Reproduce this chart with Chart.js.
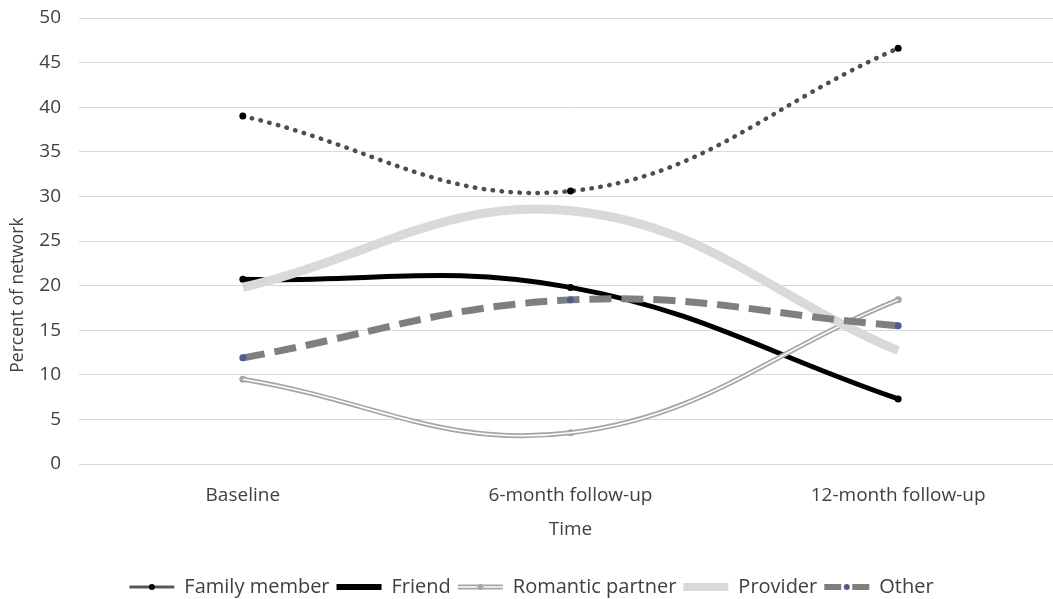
<!DOCTYPE html>
<html>
<head>
<meta charset="utf-8">
<script src="https://cdn.jsdelivr.net/npm/chart.js@4.4.0/dist/chart.umd.min.js"></script>
<style>
  html, body { margin: 0; padding: 0; background: #fff; overflow: hidden; }
  canvas { display: block; }
</style>
</head>
<body>
<canvas id="network" width="1066" height="599"></canvas>
<script>
// data
var timepoints = ["Baseline", "6-month follow-up", "12-month follow-up"];
var familyMember = [39.0, 30.6, 46.6];
var friend = [20.7, 19.8, 7.3];
var romanticPartner = [9.5, 3.5, 18.4];
var provider = [19.8, 28.4, 12.7];
var other = [11.9, 18.4, 15.5];
var yTicks = [0, 5, 10, 15, 20, 25, 30, 35, 40, 45, 50];

var textColor = "#404040";
var fontFamily = "'Open Sans', sans-serif";
var legendLine = 45;

// how each series looks in the legend (Excel draws a short solid stub + marker)
var legendLook = {
  "Family member": { color: "#595959", width: 3, dash: [], marker: "#000" },
  "Friend": { color: "#000", width: 6, dash: [], marker: "#000" },
  "Romantic partner": { color: "#a6a6a6", width: 5, dash: [], marker: "#a6a6a6", inner: true },
  "Provider": { color: "#d9d9d9", width: 8, dash: [], marker: null },
  "Other": { color: "#7f7f7f", width: 6, dash: [17, 11], marker: "#4f5b8a" }
};

// y title sits below the middle of the axis, like the Excel original
var yTitlePlugin = {
  id: "yTitle",
  afterDraw: function(chart) {
    var ctx = chart.ctx;
    ctx.save();
    ctx.translate(18, 295);
    ctx.rotate(-Math.PI / 2);
    ctx.fillStyle = textColor;
    ctx.font = "17.5px " + fontFamily;
    ctx.textAlign = "center";
    ctx.textBaseline = "middle";
    ctx.fillText("Percent of network", 0, 0);
    ctx.restore();
  }
};

// markers and the white core of the double line on the legend stubs
var legendMarkers = {
  id: "legendMarkers",
  afterDraw: function(chart) {
    var lg = chart.legend;
    if (!lg || !lg.legendHitBoxes) return;
    var ctx = chart.ctx;
    ctx.save();
    lg.legendItems.forEach(function(item, i) {
      var box = lg.legendHitBoxes[i];
      var look = legendLook[item.text];
      if (!box || !look) return;
      var cx = box.left + legendLine / 2;
      var cy = box.top + box.height / 2;
      if (look.inner) {
        ctx.strokeStyle = "#fff";
        ctx.lineWidth = 1.6;
        ctx.setLineDash([]);
        ctx.beginPath();
        ctx.moveTo(box.left, cy);
        ctx.lineTo(box.left + legendLine, cy);
        ctx.stroke();
      }
      if (look.marker) {
        ctx.fillStyle = look.marker;
        ctx.beginPath();
        ctx.arc(cx, cy, 3, 0, Math.PI * 2);
        ctx.fill();
      }
    });
    ctx.restore();
  }
};

var ctx = document.getElementById("network").getContext("2d");
var networkChart = new Chart(ctx, {
  type: "line",
  data: {
    labels: timepoints,
    datasets: [
      {
        label: "Family member",
        data: familyMember,
        borderColor: "#4d4d4d",
        borderWidth: 4.5,
        borderDash: [0.5, 8.5],
        borderCapStyle: "round",
        pointRadius: 3.5,
        pointBorderWidth: 0,
        pointBackgroundColor: "#000",
        order: 6
      },
      {
        label: "Friend",
        data: friend,
        borderColor: "#000",
        borderWidth: 5,
        pointRadius: 3.5,
        pointBorderWidth: 0,
        pointBackgroundColor: "#000",
        order: 5
      },
      {
        label: "Romantic partner",
        data: romanticPartner,
        borderColor: "#a6a6a6",
        borderWidth: 5,
        pointRadius: 3.5,
        pointBorderWidth: 0,
        pointBackgroundColor: "#a6a6a6",
        order: 4
      },
      {
        label: "romantic-inner",
        data: romanticPartner,
        borderColor: "#ffffff",
        borderWidth: 1.6,
        pointRadius: 0,
        order: 3.5
      },
      {
        label: "Provider",
        data: provider,
        borderColor: "#d9d9d9",
        borderWidth: 9,
        pointRadius: 0,
        order: 3
      },
      {
        label: "Other",
        data: other,
        borderColor: "#7f7f7f",
        borderWidth: 7,
        borderDash: [22, 10],
        pointRadius: 3.5,
        pointBorderWidth: 0,
        pointBackgroundColor: "#4f5b8a",
        order: 2
      }
    ]
  },
  options: {
    responsive: false,
    animation: false,
    layout: {
      padding: { top: 18, right: 3, left: 0, bottom: -8 }
    },
    elements: {
      line: { tension: 0.4, fill: false }
    },
    plugins: {
      tooltip: { enabled: false },
      legend: {
        position: "bottom",
        labels: {
          color: textColor,
          font: { family: fontFamily, size: 20 },
          usePointStyle: true,
          pointStyle: "line",
          pointStyleWidth: legendLine,
          padding: 7,
          generateLabels: function(chart) {
            var items = Chart.defaults.plugins.legend.labels.generateLabels(chart);
            return items
              .filter(function(it) { return legendLook[it.text]; })
              .sort(function(a, b) { return a.datasetIndex - b.datasetIndex; })
              .map(function(it) {
                var look = legendLook[it.text];
                it.strokeStyle = look.color;
                it.fillStyle = look.color;
                it.lineWidth = look.width;
                it.lineDash = look.dash;
                it.lineCap = "butt";
                it.pointStyle = "line";
                return it;
              });
          }
        }
      }
    },
    scales: {
      x: {
        offset: true,
        grid: { display: false, drawTicks: false },
        border: { display: false },
        ticks: {
          color: textColor,
          font: { family: fontFamily, size: 19 },
          padding: 20
        },
        title: {
          display: true,
          text: "Time",
          color: textColor,
          font: { family: fontFamily, size: 19 },
          padding: { top: 4, bottom: 29 }
        },
        afterFit: function(scale) {
          scale.height = 106;
        }
      },
      y: {
        min: 0,
        max: 50,
        afterBuildTicks: function(scale) {
          scale.ticks = yTicks.map(function(v) { return { value: v }; });
        },
        grid: {
          color: "#d9d9d9",
          lineWidth: 1,
          drawTicks: true,
          tickLength: 18,
          tickColor: "rgba(0,0,0,0)"
        },
        border: { display: false },
        ticks: {
          color: textColor,
          font: { family: fontFamily, size: 19 },
          padding: 0
        },
        title: { display: false },
        afterFit: function(scale) {
          scale.width = 79;
        }
      }
    }
  },
  plugins: [yTitlePlugin, legendMarkers]
});
</script>
</body>
</html>
